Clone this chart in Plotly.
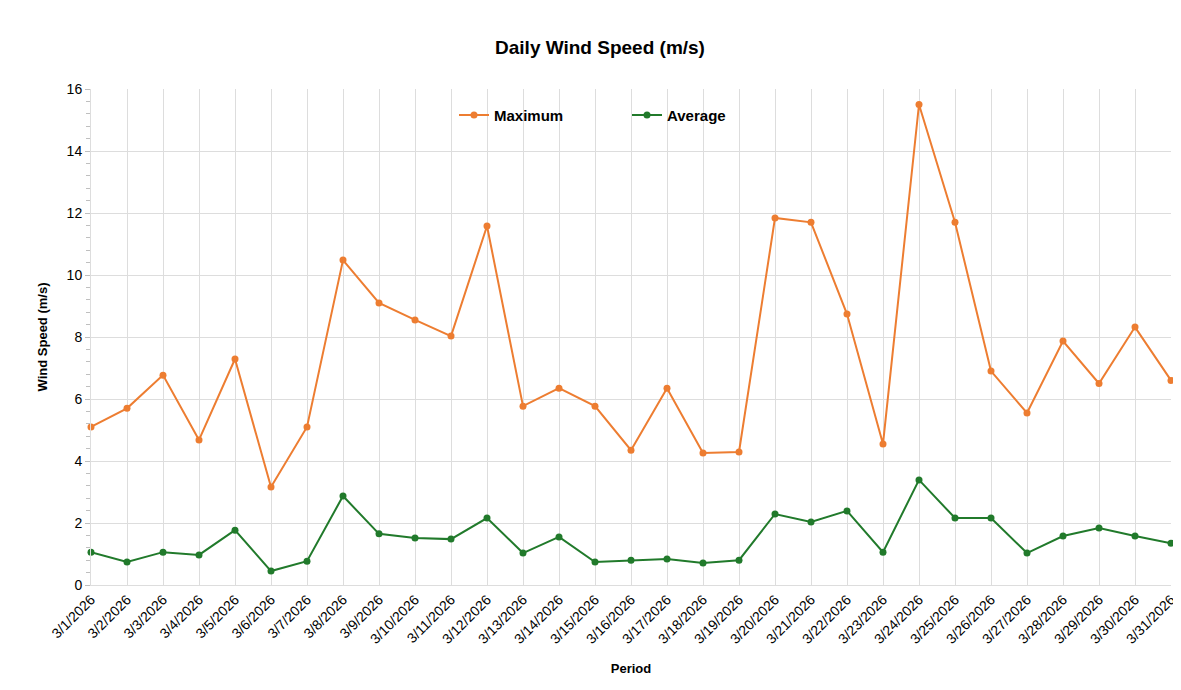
import plotly.graph_objects as go

dates = [f"3/{d}/2026" for d in range(1, 32)]
maximum = [5.1, 5.7, 6.77, 4.68, 7.29, 3.16, 5.1, 10.48, 9.1, 8.55, 8.03, 11.58, 5.77, 6.35, 5.77,
           4.35, 6.35, 4.26, 4.29, 11.84, 11.7, 8.74, 4.55, 15.5, 11.7, 6.9, 5.55, 7.87, 6.5, 8.32, 6.6]
average = [1.06, 0.74, 1.06, 0.97, 1.77, 0.45, 0.77, 2.87, 1.65, 1.52, 1.48, 2.16, 1.03, 1.55, 0.74,
           0.8, 0.84, 0.71, 0.8, 2.29, 2.03, 2.39, 1.06, 3.39, 2.16, 2.16, 1.03, 1.58, 1.84, 1.58, 1.35]

ORANGE = "#ED7D31"
GREEN = "#217A2B"
FONT = "Liberation Sans, Arial, sans-serif"

fig = go.Figure()
fig.add_trace(go.Scatter(x=dates, y=maximum, name="Maximum", mode="lines+markers",
                         line=dict(color=ORANGE, width=2), marker=dict(size=7, color=ORANGE),
                         cliponaxis=False))
fig.add_trace(go.Scatter(x=dates, y=average, name="Average", mode="lines+markers",
                         line=dict(color=GREEN, width=2), marker=dict(size=7, color=GREEN),
                         cliponaxis=False))

fig.update_layout(
    width=1181, height=690,
    margin=dict(l=83, r=18, t=81, b=113),
    paper_bgcolor="white", plot_bgcolor="white",
    font=dict(family=FONT, color="#000000", size=12),
    title=dict(text="<b>Daily Wind Speed (m/s)</b>", x=592 / 1181, xanchor="center",
               y=1 - 39 / 690, yanchor="middle", font=dict(size=19, family=FONT, color="#000")),
    legend=dict(orientation="h", x=0.5 - 4 / 1080, xanchor="center", y=0.947, yanchor="middle",
                font=dict(size=15, family=FONT, color="#000", weight="bold"), entrywidth=128,
                bgcolor="rgba(0,0,0,0)", itemsizing="trace"),
    showlegend=True,
)
fig.update_xaxes(type="category", range=[0, 30], showgrid=True, gridcolor="#DDDDDD", gridwidth=1,
                 tickangle=-45, tickfont=dict(size=14, family=FONT, color="#000"), automargin=False,
                 showline=True, linecolor="#DDDDDD", ticks="",
                 title=dict(text="<b>Period</b>", font=dict(size=13, family=FONT, color="#000"), standoff=17))
fig.update_yaxes(range=[0, 16], dtick=2, showgrid=True, gridcolor="#DDDDDD", gridwidth=1,
                 zeroline=False, showline=True, linecolor="#DDDDDD", automargin=False,
                 ticks="outside", ticklen=5, tickcolor="#BFBFBF",
                 minor=dict(ticks="outside", dtick=0.4, ticklen=4, tickcolor="#BFBFBF", showgrid=False),
                 tickfont=dict(size=14, family=FONT, color="#000"),
                 title=dict(text="<b>Wind Speed (m/s)</b>", font=dict(size=13, family=FONT, color="#000"), standoff=16))

fig.write_html("out.html")
